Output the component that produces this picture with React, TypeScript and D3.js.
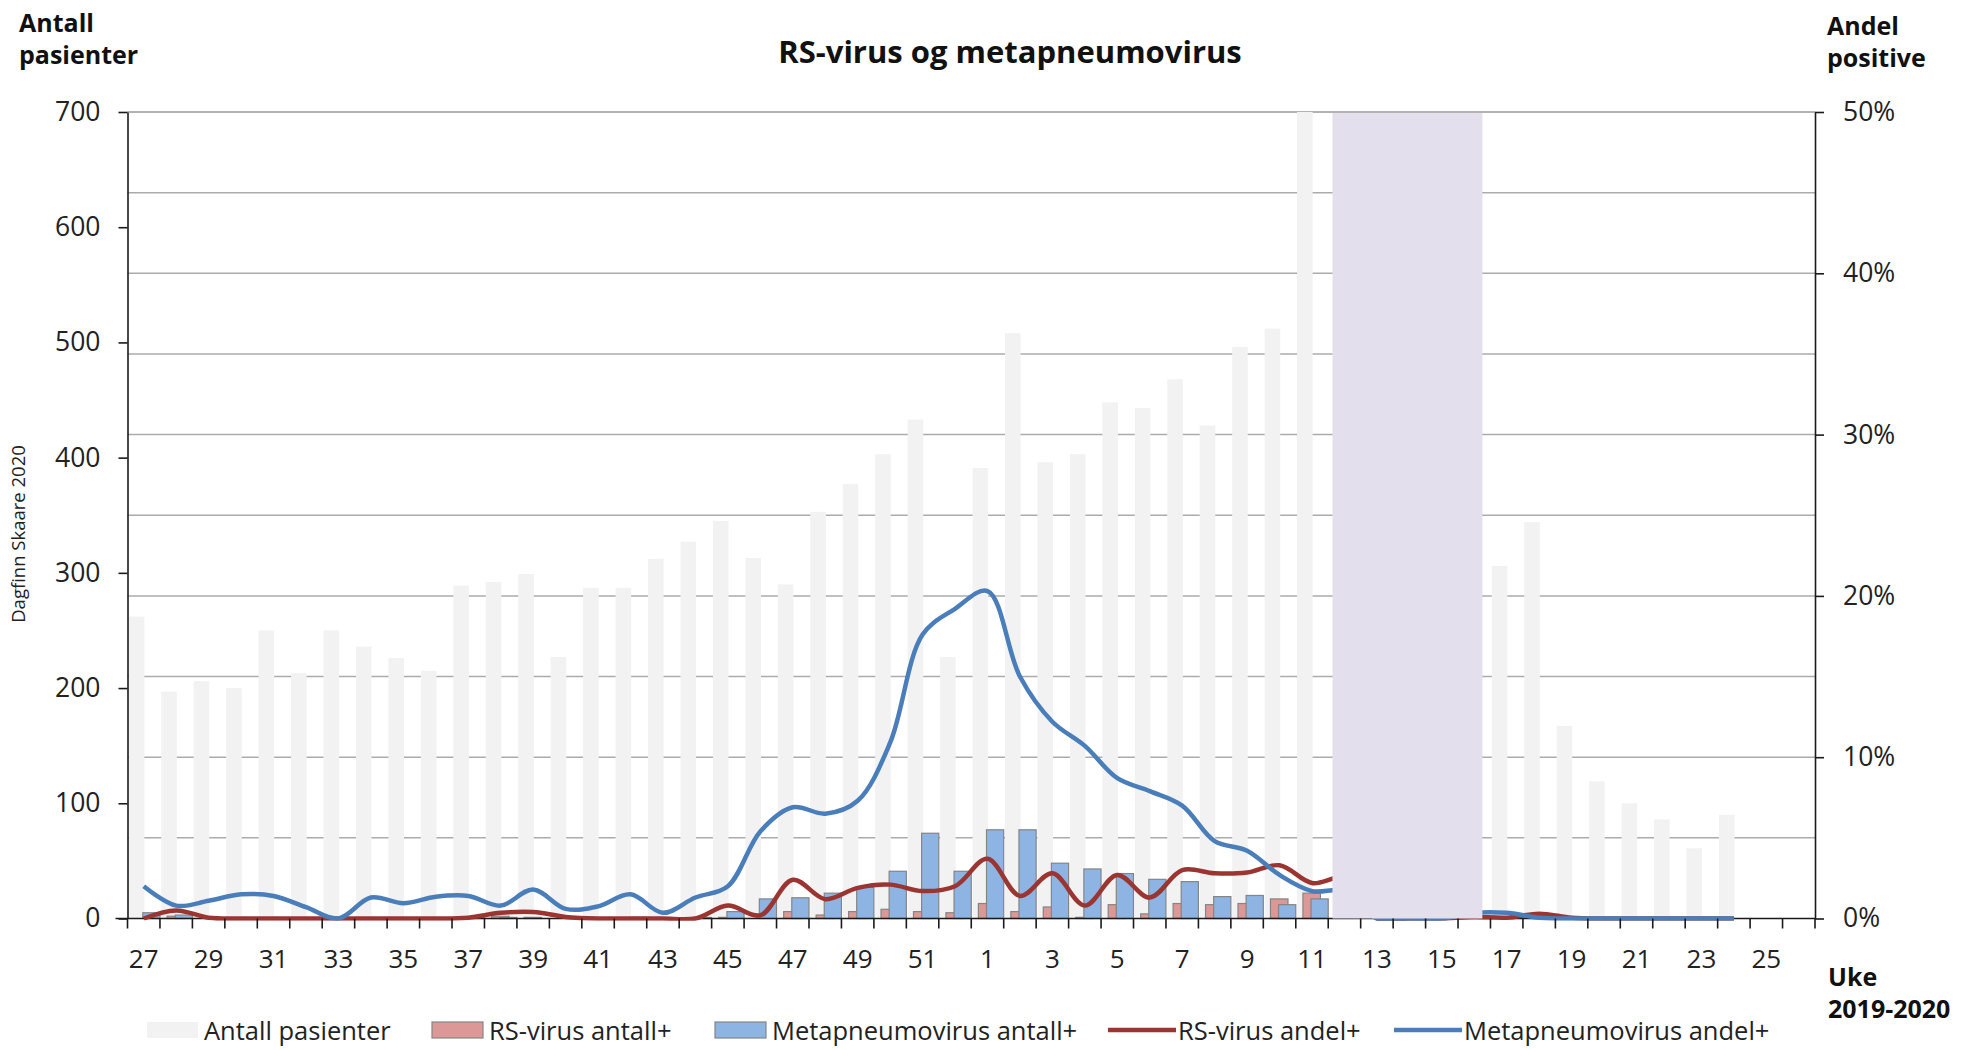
import React, { useEffect, useRef } from "react";
import * as d3 from "d3";

// Uke 2019-2020
const weeks = [
  27, 28, 29, 30, 31, 32, 33, 34, 35, 36, 37, 38, 39, 40, 41, 42, 43, 44, 45, 46, 47, 48, 49, 50, 51, 52,
  1, 2, 3, 4, 5, 6, 7, 8, 9, 10, 11, 12, 13, 14, 15, 16, 17, 18, 19, 20, 21, 22, 23, 24, 25, 26,
];

// Antall pasienter (grey bars)
const patients = [
  262, 197, 206, 200, 250, 213, 250, 236, 226, 215, 289, 292, 299, 227, 287, 287, 312, 327, 345, 313, 290, 353, 377, 403, 433, 227,
  391, 508, 396, 403, 448, 443, 468, 428, 496, 512, 700, null, null, null, null, null, 306, 344, 167, 119, 100, 86, 61, 90, null, null,
];

// RS-virus antall+
const rsCount = [
  0, 2, 0, 0, 0, 0, 0, 0, 0, 0, 1, 2, 1, 0, 0, 0, 0, 0, 1, 0, 6, 3, 6, 8, 6, 5,
  13, 6, 10, 1, 12, 4, 13, 12, 13, 17, 22, null, null, null, null, null, 0, 1, 0, 0, 0, 0, 0, 0, null, null,
];

// Metapneumovirus antall+
const metaCount = [
  5, 3, 0, 0, 0, 0, 0, 0, 0, 0, 1, 1, 0, 0, 0, 1, 0, 1, 6, 17, 18, 22, 27, 41, 74, 41,
  77, 77, 48, 43, 39, 34, 32, 19, 20, 12, 17, null, null, null, null, null, 1, 0, 0, 0, 0, 0, 0, 0, null, null,
];

// RS-virus andel+ (%)
const rsPct = [
  0, 0.5, 0.05, 0, 0, 0, 0, 0, 0, 0, 0.05, 0.35, 0.4, 0.1, 0, 0, 0, 0, 0.8, 0.2, 2.4, 1.2, 1.9, 2.1, 1.7, 2.0,
  3.7, 1.4, 2.8, 0.8, 2.7, 1.3, 3.0, 2.8, 2.85, 3.3, 2.2, 2.5, 0, 0, 0, 0.1, 0.05, 0.3, 0.05, 0, 0, 0, 0, 0, null, null,
];

// Metapneumovirus andel+ (%)
const metaPct = [
  2.0, 0.8, 1.1, 1.5, 1.4, 0.7, 0, 1.3, 0.95, 1.35, 1.4, 0.8, 1.8, 0.6, 0.75, 1.5, 0.35, 1.3, 2.0, 5.4, 6.9, 6.5, 7.3, 10.9, 17.6, 19.2,
  20.3, 15.0, 12.2, 10.7, 8.7, 7.9, 7.0, 4.8, 4.2, 2.7, 1.7, 1.7, 0, 0, 0, 0.35, 0.35, 0.05, 0, 0, 0, 0, 0, 0, null, null,
];

// weeks without data (shaded)
const shadedWeeks = [12, 16];

const leftTicks = [0, 100, 200, 300, 400, 500, 600, 700];
const rightTicks = [0, 0.1, 0.2, 0.3, 0.4, 0.5];
const gridTicks = [0.05, 0.1, 0.15, 0.2, 0.25, 0.3, 0.35, 0.4, 0.45, 0.5];

const W = 1973;
const H = 1050;
const FONT = "'Open Sans', Lato, sans-serif";

export default function App() {
  const ref = useRef<SVGSVGElement>(null);

  useEffect(() => {
    const svg = d3.select(ref.current);
    svg.selectAll("*").remove();

    const left = 127.5, right = 1815, top = 112, bottom = 918.5;

    const x = d3.scaleBand<number>().domain(weeks).range([left, right]).padding(0);
    const bw = x.bandwidth();
    const yL = d3.scaleLinear().domain([0, 700]).range([bottom, top]);
    const yR = d3.scaleLinear().domain([0, 0.5]).range([bottom, top]);

    const rows = weeks.map((w, i) => ({
      w, pat: patients[i], rs: rsCount[i], meta: metaCount[i], rsP: rsPct[i], metaP: metaPct[i],
    }));

    svg.append("defs").append("clipPath").attr("id", "lineclip")
      .append("rect").attr("x", 0).attr("y", 0).attr("width", W).attr("height", bottom + 2.3);

    // gridlines (right axis, every 5%)
    svg.append("g")
      .selectAll("line")
      .data(gridTicks)
      .join("line")
      .attr("x1", left).attr("x2", right)
      .attr("y1", d => yR(d)).attr("y2", d => yR(d))
      .attr("stroke", d => d === 0.5 ? "#999" : "#ababab")
      .attr("stroke-width", 1.5);

    // grey bars
    svg.append("g")
      .selectAll("rect")
      .data(rows.filter(d => d.pat != null))
      .join("rect")
      .attr("x", d => x(d.w)! + bw * 0.04)
      .attr("width", bw * 0.48)
      .attr("y", d => yL(Math.min(d.pat as number, 700)))
      .attr("height", d => yL(0) - yL(Math.min(d.pat as number, 700)))
      .attr("fill", "#f2f2f2");

    // RS-virus antall+
    svg.append("g")
      .selectAll("rect")
      .data(rows.filter(d => d.rs != null && d.rs > 0))
      .join("rect")
      .attr("x", d => x(d.w)! + bw * 0.22)
      .attr("width", bw * 0.54)
      .attr("y", d => yL(d.rs as number))
      .attr("height", d => yL(0) - yL(d.rs as number))
      .attr("fill", "#db9896")
      .attr("stroke", "#858585")
      .attr("stroke-width", 1.2);

    // Metapneumovirus antall+
    svg.append("g")
      .selectAll("rect")
      .data(rows.filter(d => d.meta != null && d.meta > 0))
      .join("rect")
      .attr("x", d => x(d.w)! + bw * 0.47)
      .attr("width", bw * 0.53)
      .attr("y", d => yL(d.meta as number))
      .attr("height", d => yL(0) - yL(d.meta as number))
      .attr("fill", "#8db4e3")
      .attr("stroke", "#858585")
      .attr("stroke-width", 1.2);

    // x axis line
    svg.append("line")
      .attr("x1", left - 12).attr("x2", right)
      .attr("y1", bottom).attr("y2", bottom)
      .attr("stroke", "#1a1a1a").attr("stroke-width", 1.6);

    // lines
    const line = (key: "rsP" | "metaP") => d3.line<typeof rows[number]>()
      .defined(d => d[key] != null)
      .x(d => x(d.w)! + bw / 2)
      .y(d => yR((d[key] as number) / 100))
      .curve(d3.curveCatmullRom.alpha(0.5));

    const lines = svg.append("g").attr("clip-path", "url(#lineclip)");
    lines.append("path")
      .datum(rows)
      .attr("d", line("rsP"))
      .attr("fill", "none")
      .attr("stroke", "#9b3532")
      .attr("stroke-width", 4.5)
      .attr("stroke-linejoin", "round");

    lines.append("path")
      .datum(rows)
      .attr("d", line("metaP"))
      .attr("fill", "none")
      .attr("stroke", "#4a7ebb")
      .attr("stroke-width", 4.5)
      .attr("stroke-linejoin", "round");

    // shaded period
    const sx0 = x(shadedWeeks[0])! + bw * 0.13;
    const sx1 = x(shadedWeeks[1])! + bw * 0.75;
    svg.append("rect")
      .attr("x", sx0).attr("width", sx1 - sx0)
      .attr("y", yL(700) + 1).attr("height", yL(0) - yL(700) - 1)
      .attr("fill", "#e4dfec");

    // left axis
    const gl = svg.append("g")
      .attr("transform", `translate(${left},0)`)
      .call(d3.axisLeft(yL).tickValues(leftTicks).tickSize(9).tickSizeOuter(0).tickPadding(18));
    gl.select(".domain").attr("stroke", "#1a1a1a").attr("stroke-width", 1.6);
    gl.selectAll(".tick line").attr("stroke", "#1a1a1a").attr("stroke-width", 1.6);
    gl.selectAll(".tick text").attr("font-size", 26.5).attr("font-family", FONT).attr("fill", "#222");

    // right axis
    const gr = svg.append("g")
      .attr("transform", `translate(${right},0)`)
      .call(d3.axisRight(yR).tickValues(rightTicks).tickFormat(d3.format(".0%")).tickSize(9).tickSizeOuter(0).tickPadding(19));
    gr.select(".domain").attr("stroke", "#1a1a1a").attr("stroke-width", 1.6);
    gr.selectAll(".tick line").attr("stroke", "#1a1a1a").attr("stroke-width", 1.6);
    gr.selectAll(".tick text").attr("font-size", 26.5).attr("font-family", FONT).attr("fill", "#222");

    // x ticks at category boundaries
    svg.append("g")
      .selectAll("line")
      .data([...weeks.map(w => x(w)!), right])
      .join("line")
      .attr("x1", d => d).attr("x2", d => d)
      .attr("y1", bottom).attr("y2", bottom + 10)
      .attr("stroke", "#1a1a1a").attr("stroke-width", 1.6);

    svg.append("g")
      .selectAll("text")
      .data(weeks.filter(w => w % 2 === 1))
      .join("text")
      .attr("x", d => x(d)! + bw / 2)
      .attr("y", 958)
      .attr("text-anchor", "middle")
      .attr("dominant-baseline", "central")
      .attr("font-size", 26)
      .attr("font-family", FONT)
      .attr("fill", "#222")
      .text(d => d);

    // titles
    svg.append("text")
      .attr("x", 1010).attr("y", 63)
      .attr("text-anchor", "middle")
      .attr("font-size", 31).attr("font-weight", "bold").attr("font-family", FONT).attr("fill", "#111")
      .text("RS-virus og metapneumovirus");

    const bold = (tx: number, ty: number, lines: string[]) => {
      const t = svg.append("text")
        .attr("x", tx).attr("y", ty)
        .attr("font-size", 25).attr("font-weight", "bold").attr("font-family", FONT).attr("fill", "#111");
      lines.forEach((s, i) => t.append("tspan").attr("x", tx).attr("dy", i === 0 ? 0 : 32).text(s));
    };
    bold(19, 32, ["Antall", "pasienter"]);
    bold(1827, 35, ["Andel", "positive"]);
    bold(1828, 986, ["Uke", "2019-2020"]);

    svg.append("text")
      .attr("transform", `translate(25,534) rotate(-90)`)
      .attr("text-anchor", "middle")
      .attr("font-size", 18.5).attr("font-family", FONT).attr("fill", "#222")
      .text("Dagfinn Skaare 2020");

    // legend
    const legend = [
      { label: "Antall pasienter", kind: "bar", fill: "#f2f2f2", stroke: "none", x: 147 },
      { label: "RS-virus antall+", kind: "bar", fill: "#db9896", stroke: "#858585", x: 432 },
      { label: "Metapneumovirus antall+", kind: "bar", fill: "#8db4e3", stroke: "#858585", x: 715 },
      { label: "RS-virus andel+", kind: "line", fill: "#9b3532", stroke: "#9b3532", x: 1108 },
      { label: "Metapneumovirus andel+", kind: "line", fill: "#4a7ebb", stroke: "#4a7ebb", x: 1394 },
    ];
    const ly = 1030;
    const lg = svg.append("g").selectAll("g").data(legend).join("g")
      .attr("transform", d => `translate(${d.x},${ly})`);
    lg.filter(d => d.kind === "bar").append("rect")
      .attr("x", 0).attr("y", -8).attr("width", 51).attr("height", 16)
      .attr("fill", d => d.fill).attr("stroke", d => d.stroke).attr("stroke-width", 1.2);
    lg.filter(d => d.kind === "line").append("line")
      .attr("x1", 0).attr("x2", 68).attr("y1", 0).attr("y2", 0)
      .attr("stroke", d => d.stroke).attr("stroke-width", 4.5);
    lg.append("text")
      .attr("x", d => d.kind === "bar" ? 57 : 70)
      .attr("y", 0)
      .attr("dominant-baseline", "central")
      .attr("font-size", 25.5).attr("font-family", FONT).attr("fill", "#222")
      .text(d => d.label);
  }, []);

  return (
    <svg
      ref={ref}
      width={W}
      height={H}
      viewBox={`0 0 ${W} ${H}`}
      style={{ position: "absolute", left: 0, top: 0, background: "#fff" }}
    />
  );
}
